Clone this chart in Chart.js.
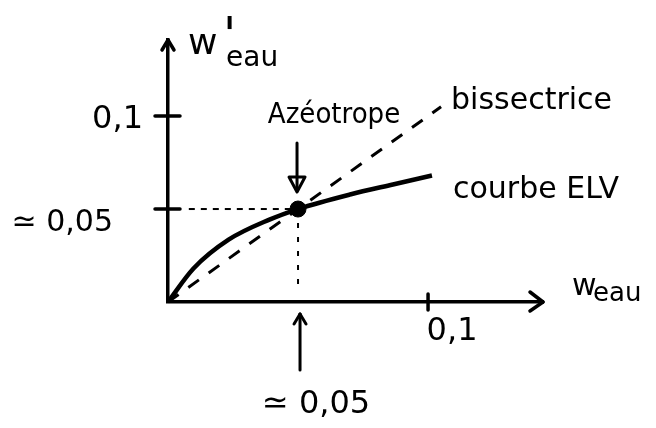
<!DOCTYPE html>
<html lang="fr">
<head>
<meta charset="utf-8">
<title>Azéotrope eau</title>
<script src="https://cdn.jsdelivr.net/npm/chart.js@4/dist/chart.umd.min.js"></script>
<style>
  html, body { margin: 0; padding: 0; background: #fff; }
  canvas { display: block; }
</style>
</head>
<body>
<canvas id="elv" width="656" height="428"></canvas>
<script>
// Courbe d'équilibre liquide-vapeur (fraction massique d'eau)
const elvX = [0, 0.0098, 0.0233, 0.039, 0.05, 0.07, 0.0865, 0.1015];
const elvY = [0, 0.018, 0.0335, 0.0443, 0.05, 0.0578, 0.0632, 0.068];

// Bissectrice y = x
const bisX = [0, 0.105];
const bisY = [0, 0.105];

// Point azéotrope
const azeoX = 0.05;
const azeoY = 0.05;

// Graduations
const xTickValues = [0.1];
const xTickLabels = ['0,1'];
const yTickValues = [0.05, 0.1];
const yTickLabels = ['≃ 0,05', '0,1'];
const azeoXLabel = '≃ 0,05';

const xMax = 0.1442;
const yMax = 0.1409;

const FONT = '"DejaVu Sans", sans-serif';
const FONT_C = '"DejaVu Sans Condensed", "DejaVu Sans", sans-serif';

function seg(ctx, x1, y1, x2, y2) {
  ctx.beginPath(); ctx.moveTo(x1, y1); ctx.lineTo(x2, y2); ctx.stroke();
}

const sketchPlugin = {
  id: 'sketch',
  afterDraw(chart) {
    const ctx = chart.ctx;
    const ax = chart.scales.x, ay = chart.scales.y;
    const X = v => ax.getPixelForValue(v);
    const Y = v => ay.getPixelForValue(v);
    const ox = X(0), oy = Y(0), xr = X(xMax), yt = Y(yMax);

    ctx.save();
    ctx.strokeStyle = '#000';
    ctx.fillStyle = '#000';
    ctx.lineCap = 'round';
    ctx.lineJoin = 'round';
    ctx.lineWidth = 3.5;

    // flèches des axes
    seg(ctx, xr - 13, oy - 10, xr, oy); seg(ctx, xr, oy, xr - 13, oy + 9);
    seg(ctx, ox - 6, yt + 10, ox, yt); seg(ctx, ox, yt, ox + 6, yt + 10);

    // graduations
    yTickValues.forEach(v => seg(ctx, ox - 13, Y(v), ox + 12, Y(v)));
    xTickValues.forEach(v => seg(ctx, X(v), oy - 8, X(v), oy + 8));

    // libellés des graduations
    ctx.textBaseline = 'middle';
    ctx.textAlign = 'right';
    yTickValues.forEach((v, i) => {
      const low = v < 0.07;
      ctx.font = (low ? '30px ' : '32px ') + FONT;
      ctx.fillText(yTickLabels[i], ox - (low ? 55 : 25), Y(v) + (low ? 14 : 4));
    });
    ctx.textAlign = 'center';
    ctx.font = '32px ' + FONT;
    xTickValues.forEach((v, i) => ctx.fillText(xTickLabels[i], X(v) + 24, oy + 30));

    // repère de l'abscisse de l'azéotrope
    const ax0 = X(azeoX), ay0 = Y(azeoY);
    ctx.lineWidth = 3;
    seg(ctx, ax0 + 2, oy + 68, ax0 + 2, oy + 12);
    seg(ctx, ax0 - 4, oy + 22, ax0 + 2, oy + 12); seg(ctx, ax0 + 2, oy + 12, ax0 + 8, oy + 22);
    ctx.font = '32px ' + FONT;
    ctx.fillText(azeoXLabel, ax0 + 18, oy + 103);

    // annotation « Azéotrope »
    seg(ctx, ax0 - 1, ay0 - 66, ax0 - 1, ay0 - 20);
    ctx.beginPath();
    ctx.moveTo(ax0 - 9, ay0 - 32); ctx.lineTo(ax0 - 1, ay0 - 17); ctx.lineTo(ax0 + 7, ay0 - 32);
    ctx.closePath(); ctx.stroke();
    ctx.font = '29px ' + FONT_C;
    ctx.fillText('Azéotrope', ax0 + 36, ay0 - 94);

    // noms des courbes
    ctx.textAlign = 'left';
    ctx.font = '30px ' + FONT;
    ctx.fillText('bissectrice', X(bisX[1]) + 10, Y(bisY[1]) - 6);
    ctx.fillText('courbe ELV', X(elvX[elvX.length - 1]) + 21, Y(elvY[elvY.length - 1]) + 15);

    // titres des axes
    ctx.textBaseline = 'alphabetic';
    ctx.font = '36px ' + FONT;
    ctx.fillText('w', ox + 20, yt + 14);
    ctx.font = '48px ' + FONT;
    ctx.fillText("'", ox + 55, yt + 11);
    ctx.font = '28px ' + FONT;
    ctx.fillText('eau', ox + 58, yt + 26);

    ctx.font = '30px ' + FONT;
    ctx.fillText('w', xr + 29, oy - 7);
    ctx.font = '26px ' + FONT;
    ctx.fillText('eau', xr + 50, oy - 1);

    ctx.restore();
  }
};

const toPts = (xs, ys) => xs.map((x, i) => ({ x, y: ys[i] }));

new Chart(document.getElementById('elv'), {
  type: 'scatter',
  data: {
    datasets: [
      {
        label: 'courbe ELV',
        data: toPts(elvX, elvY),
        showLine: true,
        borderColor: '#000',
        borderWidth: 4.5,
        pointRadius: 0,
        cubicInterpolationMode: 'monotone',
        clip: false
      },
      {
        label: 'bissectrice',
        data: toPts(bisX, bisY),
        showLine: true,
        borderColor: '#000',
        borderWidth: 3,
        borderDash: [13, 12],
        pointRadius: 0,
        clip: false
      },
      {
        label: 'repère horizontal',
        data: [{ x: 0.008, y: azeoY }, { x: azeoX, y: azeoY }],
        showLine: true,
        borderColor: '#000',
        borderWidth: 2,
        borderDash: [6, 6],
        pointRadius: 0
      },
      {
        label: 'repère vertical',
        data: [{ x: azeoX, y: azeoY }, { x: azeoX, y: 0.008 }],
        showLine: true,
        borderColor: '#000',
        borderWidth: 2,
        borderDash: [5, 9],
        pointRadius: 0
      },
      {
        label: 'Azéotrope',
        data: [{ x: azeoX, y: azeoY }],
        pointRadius: 8,
        pointBackgroundColor: '#000',
        pointBorderColor: '#000',
        clip: false
      }
    ]
  },
  options: {
    responsive: false,
    animation: false,
    devicePixelRatio: 1,
    layout: { padding: { left: 168, right: 113, top: 40, bottom: 126 } },
    plugins: { legend: { display: false }, tooltip: { enabled: false } },
    scales: {
      x: {
        type: 'linear', min: 0, max: xMax,
        grid: { display: false, drawTicks: false },
        ticks: { display: false },
        border: { display: true, color: '#000', width: 3.5 },
        afterFit(s) { s.height = 0; }
      },
      y: {
        type: 'linear', min: 0, max: yMax,
        grid: { display: false, drawTicks: false },
        ticks: { display: false },
        border: { display: true, color: '#000', width: 3.5 },
        afterFit(s) { s.width = 0; }
      }
    }
  },
  plugins: [sketchPlugin]
});
</script>
</body>
</html>
